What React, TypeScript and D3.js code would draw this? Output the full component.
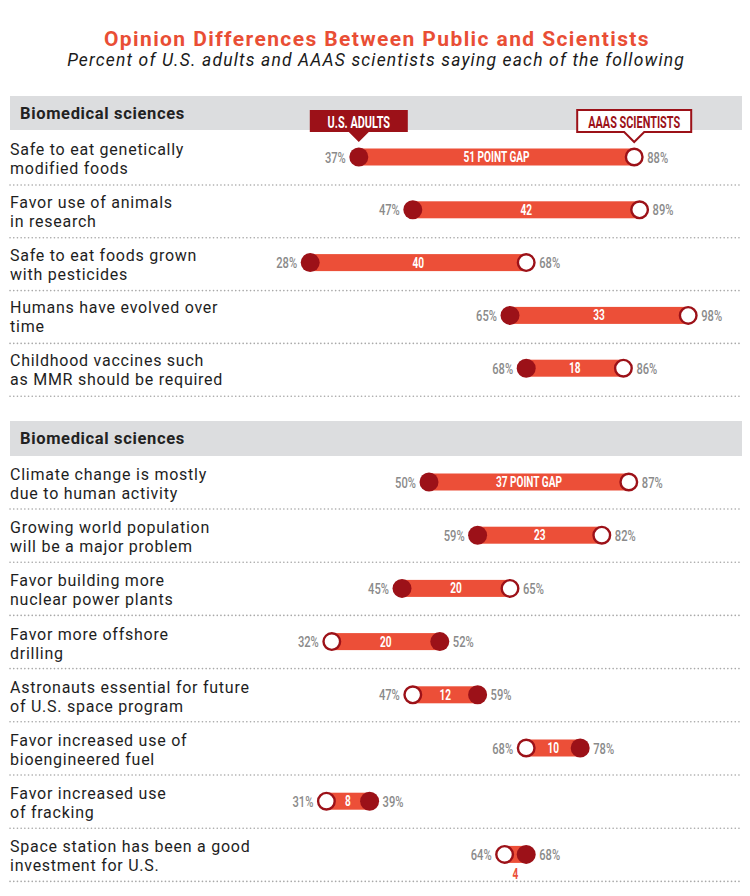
import React from "react";
import * as d3 from "d3";

const TITLE = "Opinion Differences Between Public and Scientists";
const SUBTITLE = "Percent of U.S. adults and AAAS scientists saying each of the following";

const SECTION_TITLES = ["Biomedical sciences", "Biomedical sciences"];

const LABELS_1 = [
  ["Safe to eat genetically", "modified foods"],
  ["Favor use of animals", "in research"],
  ["Safe to eat foods grown", "with pesticides"],
  ["Humans have evolved over", "time"],
  ["Childhood vaccines such", "as MMR should be required"],
];
const ADULTS_1 = [37, 47, 28, 65, 68];
const SCIENTISTS_1 = [88, 89, 68, 98, 86];
const GAPS_1 = ["51 POINT GAP", "42", "40", "33", "18"];

const LABELS_2 = [
  ["Climate change is mostly", "due to human activity"],
  ["Growing world population", "will be a major problem"],
  ["Favor building more", "nuclear power plants"],
  ["Favor more offshore", "drilling"],
  ["Astronauts essential for future", "of U.S. space program"],
  ["Favor increased use of", "bioengineered fuel"],
  ["Favor increased use", "of fracking"],
  ["Space station has been a good", "investment for U.S."],
];
const ADULTS_2 = [50, 59, 45, 52, 59, 78, 39, 68];
const SCIENTISTS_2 = [87, 82, 65, 32, 47, 68, 31, 64];
const GAPS_2 = ["37 POINT GAP", "23", "20", "20", "12", "10", "8", "4"];

const LEGEND_ADULTS = "U.S. ADULTS";
const LEGEND_SCIENTISTS = "AAAS SCIENTISTS";

const RED = "#ec4f38";
const DARK = "#9c1118";
const GREY = "#8a8a8a";
const BAND = "#dcdddf";
const SANS = "Roboto, 'Noto Sans', sans-serif";
const COND = "Roboto, 'Noto Sans', sans-serif";

const W = 750;
const H = 896;
const x = d3.scaleLinear().domain([0, 100]).range([159, 699]);
const R = 9.5;
const BAR_H = 17;

function Cond({ x: tx, y, anchor, size, weight, fill, sx = 0.78, children }: any) {
  return (
    <text
      transform={`translate(${tx},${y}) scale(${sx},1)`}
      textAnchor={anchor}
      fontFamily={COND}
      fontSize={size}
      fontWeight={weight}
      fill={fill}
    >
      {children}
    </text>
  );
}

function Row({ cy, label, a, s, gap }: any) {
  const xa = x(a);
  const xs = x(s);
  const lo = Math.min(xa, xs);
  const hi = Math.max(xa, xs);
  const lowV = Math.min(a, s);
  const highV = Math.max(a, s);
  const inside = hi - lo - 2 * R > 10;
  return (
    <g>
      <text x={10} y={cy - 2} fontFamily={SANS} fontSize={16} letterSpacing={0.75} fill="#1e1e1e">
        <tspan x={10}>{label[0]}</tspan>
        <tspan x={10} dy={19}>
          {label[1]}
        </tspan>
      </text>
      <rect x={lo} y={cy - BAR_H / 2} width={hi - lo} height={BAR_H} fill={RED} />
      <circle cx={xs} cy={cy} r={R - 1.2} fill="#fff" stroke={DARK} strokeWidth={2.4} />
      <circle cx={xa} cy={cy} r={R} fill={DARK} />
      <Cond x={lo - 13} y={cy + 5.5} anchor="end" size={15.5} weight={500} fill={GREY} sx={0.72}>
        {lowV}%
      </Cond>
      <Cond x={hi + 13} y={cy + 5.5} anchor="start" size={15.5} weight={500} fill={GREY} sx={0.72}>
        {highV}%
      </Cond>
      {inside ? (
        <Cond x={(lo + hi) / 2} y={cy + 5} anchor="middle" size={14} weight={700} fill="#fff" sx={0.72}>
          {gap}
        </Cond>
      ) : (
        <Cond x={(lo + hi) / 2} y={cy + 25} anchor="middle" size={14} weight={700} fill={RED} sx={0.72}>
          {gap}
        </Cond>
      )}
    </g>
  );
}

function Separator({ y }: any) {
  return (
    <line
      x1={10}
      x2={742}
      y1={y}
      y2={y}
      stroke="#a9a9a9"
      strokeWidth={1.6}
      strokeDasharray="0.1 3.6"
      strokeLinecap="round"
    />
  );
}

function Callout({ cx, text, filled }: any) {
  const w = filled ? 98 : 114;
  const top = 110;
  const bot = 132;
  const tip = 142;
  const l = cx - w / 2;
  const r = cx + w / 2;
  const d = `M${l},${top} H${r} V${bot} H${cx + 10} L${cx},${tip} L${cx - 10},${bot} H${l} Z`;
  return (
    <g>
      <path d={d} fill={filled ? DARK : "#fff"} stroke={DARK} strokeWidth={filled ? 0 : 2} />
      <Cond x={cx} y={127.5} anchor="middle" size={16} weight={700} fill={filled ? "#fff" : DARK} sx={0.68}>
        {text}
      </Cond>
    </g>
  );
}

export default function App() {
  const cy1 = ADULTS_1.map((_, i) => 157 + 52.8 * i);
  const cy2 = ADULTS_2.map((_, i) => 482 + 53.2 * i);
  return (
    <svg width={W} height={H} style={{ position: "absolute", left: 0, top: 0, background: "#fff" }}>
      <rect width={W} height={H} fill="#fff" />
      <text x={377} y={46} textAnchor="middle" fontFamily={SANS} fontWeight={700} fontSize={21} letterSpacing={1.4} fill="#e94e35">
        {TITLE}
      </text>
      <text x={376} y={66} textAnchor="middle" fontFamily={SANS} fontStyle="italic" fontSize={17.5} letterSpacing={1.15} fill="#1a1a1a">
        {SUBTITLE}
      </text>

      <rect x={10} y={96} width={732} height={34} fill={BAND} />
      <text x={20} y={119} fontFamily={SANS} fontWeight={700} fontSize={16.5} letterSpacing={0.65} fill="#222">
        {SECTION_TITLES[0]}
      </text>
      {cy1.map((cy, i) => (
        <Separator key={"s1" + i} y={cy + 28} />
      ))}
      {cy1.map((cy, i) => (
        <Row key={"r1" + i} cy={cy} label={LABELS_1[i]} a={ADULTS_1[i]} s={SCIENTISTS_1[i]} gap={GAPS_1[i]} />
      ))}
      <Callout cx={x(ADULTS_1[0])} text={LEGEND_ADULTS} filled />
      <Callout cx={x(SCIENTISTS_1[0])} text={LEGEND_SCIENTISTS} filled={false} />

      <rect x={10} y={421} width={732} height={35} fill={BAND} />
      <text x={20} y={444} fontFamily={SANS} fontWeight={700} fontSize={16.5} letterSpacing={0.65} fill="#222">
        {SECTION_TITLES[1]}
      </text>
      {cy2.map((cy, i) => (
        <Separator key={"s2" + i} y={cy + 27} />
      ))}
      {cy2.map((cy, i) => (
        <Row key={"r2" + i} cy={cy} label={LABELS_2[i]} a={ADULTS_2[i]} s={SCIENTISTS_2[i]} gap={GAPS_2[i]} />
      ))}
    </svg>
  );
}
